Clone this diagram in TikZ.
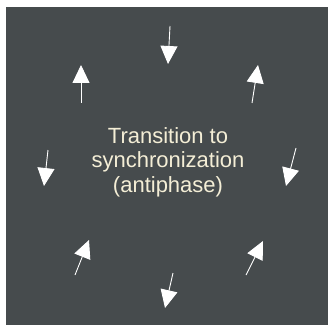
\documentclass[tikz,border=0pt]{standalone}
\usepackage{fontspec}
\setmainfont{Liberation Sans}
\usetikzlibrary{arrows.meta}
\definecolor{panel}{HTML}{464B4D}
\definecolor{cream}{HTML}{F4EED6}
\tikzset{
  flow/.style={draw=white, line width=0.9pt,
    -{Triangle[length=18pt,width=17pt,fill=white]}},
  caption/.style={text=cream, align=center, font=\fontsize{22}{24.5}\selectfont,
    inner sep=0pt}
}
\begin{document}
\begin{tikzpicture}[x=1pt,y=-1pt]
  \useasboundingbox (0,0) rectangle (328,331);
  \fill[white] (0,0) rectangle (328,331);
  \fill[panel] (6,7) rectangle (328,325);

  \node[caption] (label) at (168,162) {Transition to\\synchronization\\(antiphase)};

  % tails (t) and tips (h) of the eight arrows around the label
  \coordinate (t1) at (170,26);  \coordinate (h1) at (168,64);
  \coordinate (t2) at (81,103);  \coordinate (h2) at (81,65);
  \coordinate (t3) at (252,103); \coordinate (h3) at (258,65);
  \coordinate (t4) at (48,150);  \coordinate (h4) at (44,186);
  \coordinate (t5) at (296,148); \coordinate (h5) at (286,186);
  \coordinate (t6) at (75,275);  \coordinate (h6) at (89,240);
  \coordinate (t7) at (246,275); \coordinate (h7) at (263,241);
  \coordinate (t8) at (173,273); \coordinate (h8) at (165,308);

  \foreach \i in {1,...,8} \draw[flow] (t\i) -- (h\i);
\end{tikzpicture}
\end{document}
